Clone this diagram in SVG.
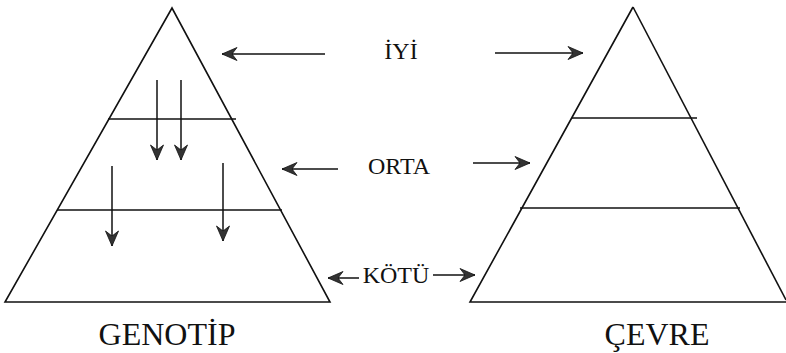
<svg xmlns="http://www.w3.org/2000/svg" width="786" height="353" viewBox="0 0 786 353">
  <style>
    .edge { fill: none; stroke: #111; stroke-width: 1.6; stroke-linejoin: miter; }
    .band { stroke: #111; stroke-width: 1.6; }
    .arrow { stroke: #111; stroke-width: 1.5; fill: none; marker-end: url(#head); }
    .lbl { font-family: "Liberation Serif", "Times New Roman", serif; fill: #111; text-anchor: middle; }
    .mid { font-size: 24px; }
    .big { font-size: 32px; }
  </style>
  <defs>
    <!-- swept, notched arrowhead -->
    <marker id="head" markerUnits="userSpaceOnUse" markerWidth="20" markerHeight="16" viewBox="-16 -8 20 16" refX="0" refY="0" orient="auto">
      <path d="M0,0 L-15,-6.5 L-10,0 L-15,6.5 Z" fill="#333" stroke="#111" stroke-width="0.8"/>
    </marker>
  </defs>
  <rect width="786" height="353" fill="#fff"/>

  <!-- genotype pyramid -->
  <g id="genotip">
    <path class="edge" d="M172,8 L5,302 L330,302 Z"/>
    <line class="band" x1="108" y1="119" x2="236" y2="119"/>
    <line class="band" x1="57" y1="210" x2="282" y2="210"/>
    <text class="lbl big" x="167" y="345">GENOTİP</text>
  </g>

  <!-- environment pyramid -->
  <g id="cevre">
    <path class="edge" d="M633,7 L470,302 L786,302"/>
    <line class="edge" x1="633" y1="7" x2="786" y2="300"/>
    <line class="band" x1="572" y1="118" x2="697" y2="118"/>
    <line class="band" x1="520" y1="208" x2="740" y2="208"/>
    <text class="lbl big" x="657" y="345">ÇEVRE</text>
  </g>

  <!-- level labels -->
  <g id="iyi"><text class="lbl mid" x="401" y="59">İYİ</text></g>
  <g id="orta"><text class="lbl mid" x="399" y="174">ORTA</text></g>
  <g id="kotu"><text class="lbl mid" x="396" y="283">KÖTÜ</text></g>

  <!-- connectors -->
  <g id="connectors">
    <line class="arrow" x1="325" y1="54" x2="222" y2="54"/>
    <line class="arrow" x1="495" y1="53" x2="583" y2="53"/>
    <line class="arrow" x1="338" y1="169" x2="282" y2="169"/>
    <line class="arrow" x1="473" y1="163" x2="530" y2="163"/>
    <line class="arrow" x1="359" y1="278" x2="328" y2="278"/>
    <line class="arrow" x1="433" y1="275" x2="475" y2="275"/>
    <line class="arrow" x1="157" y1="80" x2="157" y2="160"/>
    <line class="arrow" x1="181" y1="80" x2="181" y2="160"/>
    <line class="arrow" x1="112" y1="166" x2="112" y2="246"/>
    <line class="arrow" x1="223" y1="163" x2="223" y2="241"/>
  </g>
</svg>
